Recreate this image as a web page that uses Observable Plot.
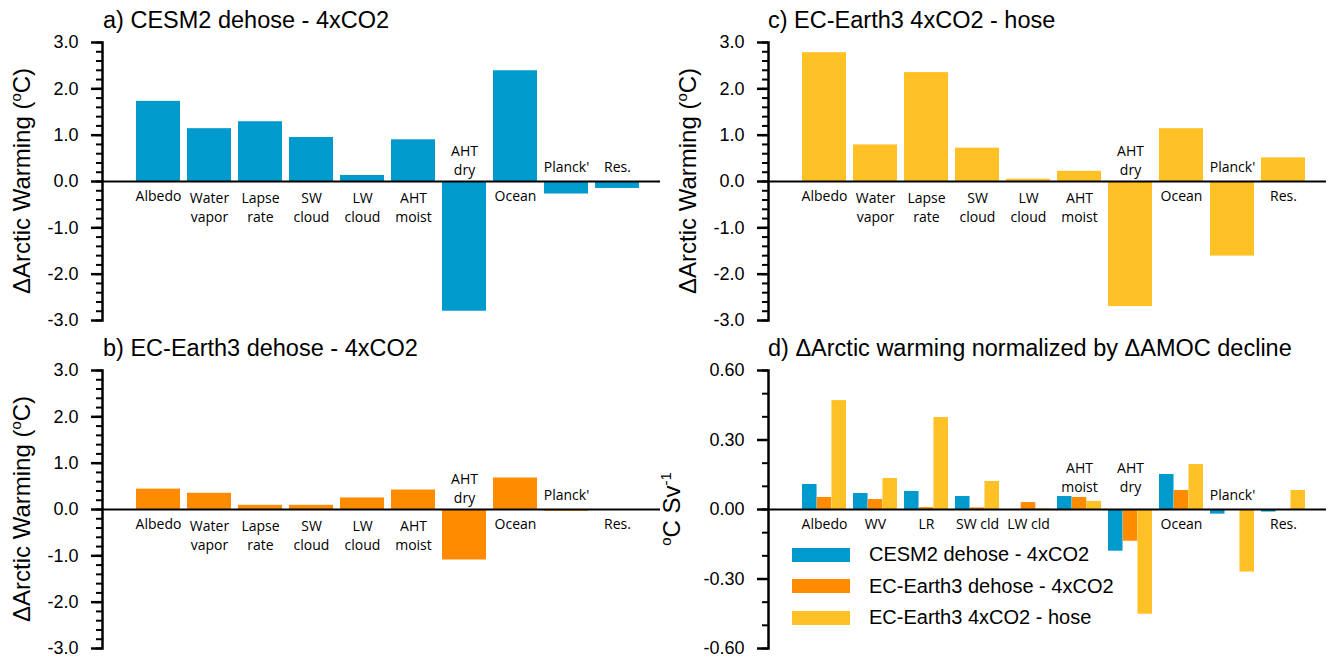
<!DOCTYPE html>
<html>
<head>
<meta charset="utf-8">
<script src="https://cdn.jsdelivr.net/npm/d3@7"></script>
<script src="https://cdn.jsdelivr.net/npm/@observablehq/plot@0.6"></script>
<style>
  html, body { margin: 0; padding: 0; background: #fff; }
  #root { position: relative; width: 1328px; height: 658px; overflow: hidden; background: #fff;
          font-family: "Liberation Sans", Arial, Helvetica, sans-serif; color: #000; }
  .panel { position: absolute; }
  .title { position: absolute; font-size: 23.5px; line-height: 23px; white-space: nowrap; }
  .ylab { position: absolute; font-size: 24px; line-height: 24px; white-space: nowrap;
          transform: translate(-50%, -50%) rotate(-90deg); }
  sup { font-size: 62%; vertical-align: 0.62em; line-height: 0; }
  .legend { position: absolute; left: 792px; top: 539px; }
  .legrow { display: flex; align-items: center; height: 31.5px; }
  .sw { width: 58px; height: 14px; margin-right: 19px; }
  .legrow span { font-size: 20px; white-space: nowrap; }
</style>
</head>
<body>
<div id="root"></div>
<script>
// ---------- data ----------
const categories = ["Albedo", "Water vapor", "Lapse rate", "SW cloud", "LW cloud", "AHT moist", "AHT dry", "Ocean", "Planck'", "Res."];
const labelsABC = ["Albedo", "Water\nvapor", "Lapse\nrate", "SW\ncloud", "LW\ncloud", "AHT\nmoist", "AHT\ndry", "Ocean", "Planck'", "Res."];
const labelsD = ["Albedo", "WV", "LR", "SW cld", "LW cld", "AHT\nmoist", "AHT\ndry", "Ocean", "Planck'", "Res."];

// panel a) CESM2 dehose - 4xCO2 (°C)
const cesm2Dehose = [1.73, 1.14, 1.29, 0.95, 0.13, 0.90, -2.80, 2.39, -0.27, -0.15];
// panel b) EC-Earth3 dehose - 4xCO2 (°C)
const ecEarthDehose = [0.44, 0.35, 0.09, 0.09, 0.25, 0.42, -1.09, 0.68, -0.04, 0.00];
// panel c) EC-Earth3 4xCO2 - hose (°C)
const ecEarthHose = [2.78, 0.79, 2.35, 0.72, 0.05, 0.22, -2.70, 1.14, -1.61, 0.51];
// panel d) normalized by AMOC decline (°C Sv^-1)
const normCesm2Dehose = [0.108, 0.069, 0.078, 0.056, 0.000, 0.056, -0.180, 0.151, -0.020, -0.011];
const normEcEarthDehose = [0.052, 0.043, 0.008, 0.007, 0.030, 0.052, -0.137, 0.082, 0.000, 0.000];
const normEcEarthHose = [0.470, 0.134, 0.397, 0.121, 0.003, 0.035, -0.452, 0.194, -0.270, 0.082];

const sideA = ["below", "below", "below", "below", "below", "below", "above", "below", "above", "above"];
const sideB = ["below", "below", "below", "below", "below", "below", "above", "below", "above", "below"];
const sideC = ["below", "below", "below", "below", "below", "below", "above", "below", "above", "below"];
const sideD = ["below", "below", "below", "below", "below", "above", "above", "below", "above", "below"];

const seriesNames = ["CESM2 dehose - 4xCO2", "EC-Earth3 dehose - 4xCO2", "EC-Earth3 4xCO2 - hose"];
const seriesColors = ["#009acd", "#ff8c00", "#ffc125"];

const titles = ["a) CESM2 dehose - 4xCO2", "b) EC-Earth3 dehose - 4xCO2", "c) EC-Earth3 4xCO2 - hose", "d) \u0394Arctic warming normalized by \u0394AMOC decline"];

const ticksMajorT = [-3, -2, -1, 0, 1, 2, 3];
const ticksMinorT = d3.range(-30, 31, 2).map(v => v / 10);
const ticksMajorN = [-0.6, -0.3, 0, 0.3, 0.6];
const ticksMinorN = d3.range(-6, 7, 1).map(v => v / 10);

// ---------- helpers ----------
const root = document.getElementById("root");

function labelMarks(labels, side, dyAbove2, dyAboveSingle) {
  const rows = categories.map((c, i) => ({cat: c, t: labels[i], side: side[i], two: labels[i].includes("\n")}));
  const base = {x: "cat", y: () => 0, text: "t", fontFamily: "'Open Sans', 'Noto Sans', sans-serif", fontSize: 14, fill: "black"};
  return [
    Plot.text(rows.filter(r => r.side === "below" && !r.two), {...base, dy: 15}),
    Plot.text(rows.filter(r => r.side === "below" && r.two), {...base, dy: 24.5, lineHeight: 1.37}),
    Plot.text(rows.filter(r => r.side === "above" && r.two), {...base, dy: dyAbove2, lineHeight: 1.37}),
    Plot.text(rows.filter(r => r.side === "above" && !r.two), {...base, dy: dyAboveSingle})
  ];
}

function makePanel({bars, domain, major, minor, fmt, labels}) {
  return Plot.plot({
    width: 662, height: 330,
    marginLeft: 102, marginRight: 2, marginTop: 42, marginBottom: 10,
    style: {fontFamily: "'Liberation Sans', Arial, sans-serif", background: "transparent", overflow: "visible"},
    x: {type: "band", domain: categories, paddingInner: 0.14, paddingOuter: 0.5, align: 0.625, axis: null},
    y: {domain, axis: null},
    marks: [
      ...bars,
      Plot.ruleY([0], {stroke: "black", strokeWidth: 2}),
      Plot.axisY({ticks: minor, tickSize: 6, tickFormat: () => "", strokeWidth: 2, label: null}),
      Plot.axisY({ticks: major, tickSize: 11, tickPadding: 13, tickFormat: fmt, fontSize: 18, strokeWidth: 2.5, label: null, fill: "black"}),
      Plot.frame({anchor: "left", strokeWidth: 2.5}),
      ...labels
    ]
  });
}

function table(vals) { return categories.map((c, i) => ({cat: c, v: vals[i]})); }

function place(el, left, top) {
  const w = document.createElement("div");
  w.className = "panel";
  w.style.left = left + "px";
  w.style.top = top + "px";
  w.appendChild(el);
  root.appendChild(w);
}

// ---------- panels ----------
const fmt1 = d => d.toFixed(1);
const fmt2 = d => d.toFixed(2);

const pa = makePanel({
  bars: [Plot.barY(table(cesm2Dehose), {x: "cat", y: "v", fill: seriesColors[0]})],
  domain: [-3, 3], major: ticksMajorT, minor: ticksMinorT, fmt: fmt1,
  labels: labelMarks(labelsABC, sideA, -22, -13.5)
});
const pb = makePanel({
  bars: [Plot.barY(table(ecEarthDehose), {x: "cat", y: "v", fill: seriesColors[1]})],
  domain: [-3, 3], major: ticksMajorT, minor: ticksMinorT, fmt: fmt1,
  labels: labelMarks(labelsABC, sideB, -22, -13.5)
});
const pc = makePanel({
  bars: [Plot.barY(table(ecEarthHose), {x: "cat", y: "v", fill: seriesColors[2]})],
  domain: [-3, 3], major: ticksMajorT, minor: ticksMinorT, fmt: fmt1,
  labels: labelMarks(labelsABC, sideC, -22, -13.5)
});
const third = 44.2 / 3;
const pd = makePanel({
  bars: [
    Plot.barY(table(normCesm2Dehose), {x: "cat", y: "v", fill: seriesColors[0], insetRight: 2 * third}),
    Plot.barY(table(normEcEarthDehose), {x: "cat", y: "v", fill: seriesColors[1], insetLeft: third, insetRight: third}),
    Plot.barY(table(normEcEarthHose), {x: "cat", y: "v", fill: seriesColors[2], insetLeft: 2 * third})
  ],
  domain: [-0.6, 0.6], major: ticksMajorN, minor: ticksMinorN, fmt: fmt2,
  labels: labelMarks(labelsD, sideD, -33, -14)
});

place(pa, 0, 0);
place(pb, 0, 328);
place(pc, 666, 0);
place(pd, 666, 328);

// ---------- titles ----------
const titlePos = [[103, 9], [103, 337], [768, 9], [768, 337]];
titles.forEach((t, i) => {
  const d = document.createElement("div");
  d.className = "title";
  d.style.left = titlePos[i][0] + "px";
  d.style.top = titlePos[i][1] + "px";
  d.textContent = t;
  root.appendChild(d);
});

// ---------- y labels ----------
const ylabs = [
  [22, 181, "\u0394Arctic Warming (<sup>o</sup>C)"],
  [22, 509, "\u0394Arctic Warming (<sup>o</sup>C)"],
  [688, 181, "\u0394Arctic Warming (<sup>o</sup>C)"],
  [672, 509, "<sup>o</sup>C Sv<sup>-1</sup>"]
];
ylabs.forEach(([x, y, html]) => {
  const d = document.createElement("div");
  d.className = "ylab";
  d.style.left = x + "px";
  d.style.top = y + "px";
  d.innerHTML = html;
  root.appendChild(d);
});

// ---------- legend ----------
const leg = document.createElement("div");
leg.className = "legend";
seriesNames.forEach((name, i) => {
  const row = document.createElement("div");
  row.className = "legrow";
  const sw = document.createElement("div");
  sw.className = "sw";
  sw.style.background = seriesColors[i];
  const tx = document.createElement("span");
  tx.textContent = name;
  row.appendChild(sw);
  row.appendChild(tx);
  leg.appendChild(row);
});
root.appendChild(leg);
</script>
</body>
</html>
